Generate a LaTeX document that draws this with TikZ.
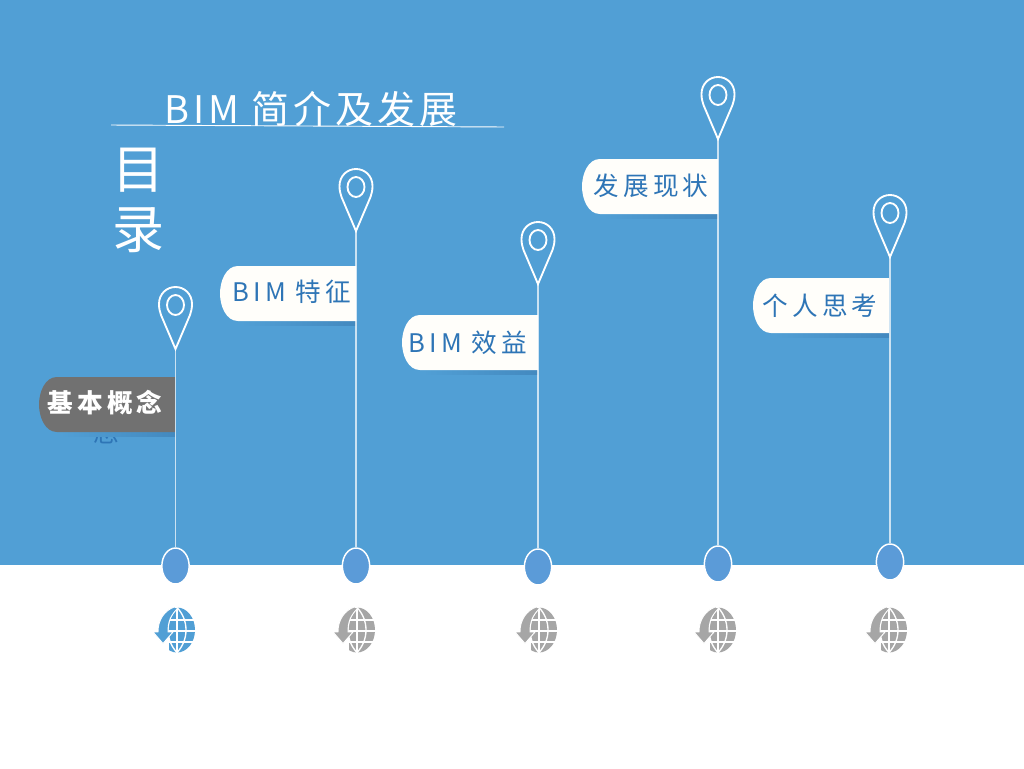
\documentclass[tikz,border=0pt]{standalone}
\usepackage{fontspec}
\setmainfont{Noto Sans CJK SC}
\newfontfamily\labelfont[LetterSpace=16]{Noto Sans CJK SC}
\newfontfamily\titlefont[LetterSpace=10]{Noto Sans CJK SC}
\definecolor{skybg}{HTML}{519FD5}
\definecolor{dotblue}{HTML}{5B9BD8}
\definecolor{labelbg}{HTML}{FFFEFA}
\definecolor{labeltext}{HTML}{2E75B6}
\definecolor{labelgray}{HTML}{717171}
\definecolor{shadowblue}{HTML}{4389BF}
\definecolor{globegray}{HTML}{A6A6A6}
\usetikzlibrary{shapes.geometric, positioning}

% label plate: right edge, top edge, colour
\newcommand{\labelplate}[3]{
    \shade[left color=skybg, right color=shadowblue] (#1-115, #2+53) rectangle (#1, #2+59);
    \fill[#3] (#1, #2) -- (#1-118, #2) .. controls (#1-130, #2) and (#1-136, #2+15) .. (#1-136, #2+27.5)
        .. controls (#1-136, #2+40) and (#1-130, #2+55) .. (#1-118, #2+55) -- (#1, #2+55) -- cycle;
}

\begin{document}
\begin{tikzpicture}[
        x=0.75pt, y=-0.75pt,
        stem/.style={draw=white, opacity=0.7, line width=0.8pt},
        pinline/.style={draw=white, line width=1.4pt},
        dot/.style={
            ellipse,
            draw=white,
            fill=dotblue,
            line width=1.1pt,
            inner sep=0pt,
            minimum width=20.5pt,
            minimum height=27pt
        },
        labeltxt/.style={font=\labelfont\fontsize{19.2pt}{23pt}\selectfont, text=labeltext, inner sep=0pt},
        pics/globe/.style={code={
            \fill[#1] (0, 0) ellipse [x radius=18, y radius=22.5];
            \foreach \yy in {-10, 1, 12}
                \draw[white, line width=1pt] (-20, \yy) -- (20, \yy);
            \draw[white, line width=1pt] (0, -23) -- (0, 23);
            \draw[white, line width=1pt] (0, -22.5) .. controls (-12, -10) and (-12, 10) .. (0, 22.5);
            \draw[white, line width=1pt] (0, -22.5) .. controls (12, -10) and (12, 10) .. (0, 22.5);
            \fill[white] (-20, 2) rectangle (-8, 24);
            \filldraw[#1, draw=white, line width=0.7pt] (-3, -23) .. controls (-13, -19) and (-19, -10) .. (-19, 2)
                -- (-24, 2) -- (-14, 13.5) -- (-4, 2) -- (-9, 2)
                .. controls (-9, -8) and (-7, -14) .. (1, -22) -- cycle;
        }}
    ]

    \useasboundingbox (0, 0) rectangle (1024, 768);

    % Background
    \fill[skybg] (0, 0) rectangle (1024, 565);
    \fill[white] (0, 565) rectangle (1024, 768);

    % Title
    \node[font=\titlefont\fontsize{28.5pt}{34pt}\selectfont, text=white, inner sep=0pt] (title) at (311, 109) {BIM 简介及发展};
    \coordinate (ruleL) at (111, 125);
    \coordinate (ruleR) at (504, 127);
    \draw[white, line width=0.7pt] (ruleL) -- (ruleR);
    \node[font=\fontsize{39pt}{46pt}\selectfont, text=white, inner sep=0pt] (mu) at (138, 170) {目};
    \node[font=\fontsize{39pt}{46pt}\selectfont, text=white, inner sep=0pt] (lu) at (138, 230) {录};

    % Hidden word peeking out under the grey plate
    \node[labeltxt] (peek) at (106, 432) {念};

    % Label plates
    \labelplate{175}{377}{labelgray}
    \labelplate{356}{266}{labelbg}
    \labelplate{538}{315}{labelbg}
    \labelplate{718}{159}{labelbg}
    \labelplate{889}{278}{labelbg}

    \node[labeltxt, text=white, font=\labelfont\bfseries\fontsize{19.2pt}{23pt}\selectfont] (lab1) at (105, 403) {基本概念};
    \node[labeltxt] (lab2) at (292, 292) {BIM 特征};
    \node[labeltxt] (lab3) at (468, 343) {BIM 效益};
    \node[labeltxt] (lab4) at (651, 186) {发展现状};
    \node[labeltxt] (lab5) at (820, 306) {个人思考};

    % Pins, stems and dots
    \foreach \n/\px/\tipy/\dotx/\doty in {1/175.5/349/175.5/566, 2/356/231/356/566, 3/538/284/538/567, 4/718/139/718/564, 5/890/257/890/562} {
        \coordinate (tip\n) at (\px, \tipy);
        \node[dot] (dot\n) at (\dotx, \doty) {};
        \draw[stem] (tip\n) -- (dot\n);
        \draw[pinline, shift={(tip\n)}] (0, 0) -- (14.5, -34) .. controls (15.8, -37.5) and (16.5, -41) .. (16.5, -45)
            .. controls (16.5, -55) and (9, -62) .. (0, -62) .. controls (-9, -62) and (-16.5, -55) .. (-16.5, -45)
            .. controls (-16.5, -41) and (-15.8, -37.5) .. (-14.5, -34) -- cycle;
        \draw[pinline, shift={(tip\n)}] (0, -44) ellipse [x radius=8.5, y radius=10];
    }

    % Globes
    \pic (globe1) at (177, 630) {globe=skybg};
    \pic (globe2) at (357, 630) {globe=globegray};
    \pic (globe3) at (539, 630) {globe=globegray};
    \pic (globe4) at (718, 630) {globe=globegray};
    \pic (globe5) at (889, 630) {globe=globegray};

\end{tikzpicture}
\end{document}
